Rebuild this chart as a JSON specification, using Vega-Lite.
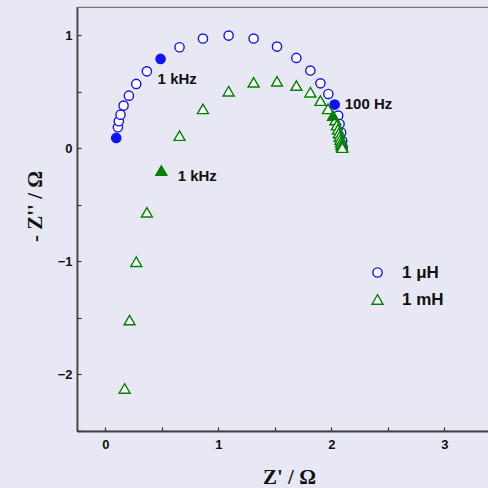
{
  "$schema": "https://vega.github.io/schema/vega-lite/v6.json",
  "width": 424,
  "height": 424,
  "autosize": "none",
  "padding": {"left": 77, "top": 7, "right": 0, "bottom": 57},
  "background": "#e8e8f4",
  "config": {
    "view": {"stroke": "#777", "strokeWidth": 1.2},
    "font": "Liberation Sans",
    "axis": {
      "domainColor": "#444", "domainWidth": 1.8, "tickColor": "#333", "tickWidth": 1.2, "tickSize": -4,
      "labelFont": "Liberation Sans", "labelFontWeight": "bold", "labelFontSize": 13, "labelColor": "#111",
      "titleFont": "Liberation Serif", "titleFontWeight": "bold", "titleFontSize": 21, "titleColor": "#111", "grid": false
    }
  },
  "datasets": {
    "eis": [
      {"series": "1 μH", "zr": 0.097, "zi": 0.092, "marked": true},
      {"series": "1 μH", "zr": 0.112, "zi": 0.186, "marked": false},
      {"series": "1 μH", "zr": 0.12, "zi": 0.239, "marked": false},
      {"series": "1 μH", "zr": 0.135, "zi": 0.298, "marked": false},
      {"series": "1 μH", "zr": 0.162, "zi": 0.378, "marked": false},
      {"series": "1 μH", "zr": 0.209, "zi": 0.466, "marked": false},
      {"series": "1 μH", "zr": 0.274, "zi": 0.57, "marked": false},
      {"series": "1 μH", "zr": 0.368, "zi": 0.681, "marked": false},
      {"series": "1 μH", "zr": 0.489, "zi": 0.791, "marked": true},
      {"series": "1 μH", "zr": 0.657, "zi": 0.894, "marked": false},
      {"series": "1 μH", "zr": 0.864, "zi": 0.971, "marked": false},
      {"series": "1 μH", "zr": 1.091, "zi": 0.997, "marked": false},
      {"series": "1 μH", "zr": 1.312, "zi": 0.971, "marked": false},
      {"series": "1 μH", "zr": 1.519, "zi": 0.9, "marked": false},
      {"series": "1 μH", "zr": 1.69, "zi": 0.8, "marked": false},
      {"series": "1 μH", "zr": 1.814, "zi": 0.688, "marked": false},
      {"series": "1 μH", "zr": 1.903, "zi": 0.575, "marked": false},
      {"series": "1 μH", "zr": 1.973, "zi": 0.481, "marked": false},
      {"series": "1 μH", "zr": 2.029, "zi": 0.387, "marked": true},
      {"series": "1 μH", "zr": 2.06, "zi": 0.29, "marked": false},
      {"series": "1 μH", "zr": 2.072, "zi": 0.215, "marked": false},
      {"series": "1 μH", "zr": 2.086, "zi": 0.14, "marked": false},
      {"series": "1 μH", "zr": 2.095, "zi": 0.068, "marked": false},
      {"series": "1 μH", "zr": 2.1, "zi": 0.01, "marked": false},
      {"series": "1 mH", "zr": 0.171, "zi": -2.124, "marked": false},
      {"series": "1 mH", "zr": 0.215, "zi": -1.519, "marked": false},
      {"series": "1 mH", "zr": 0.274, "zi": -1.003, "marked": false},
      {"series": "1 mH", "zr": 0.368, "zi": -0.566, "marked": false},
      {"series": "1 mH", "zr": 0.496, "zi": -0.197, "marked": true},
      {"series": "1 mH", "zr": 0.657, "zi": 0.112, "marked": false},
      {"series": "1 mH", "zr": 0.864, "zi": 0.349, "marked": false},
      {"series": "1 mH", "zr": 1.091, "zi": 0.505, "marked": false},
      {"series": "1 mH", "zr": 1.312, "zi": 0.584, "marked": false},
      {"series": "1 mH", "zr": 1.519, "zi": 0.593, "marked": false},
      {"series": "1 mH", "zr": 1.69, "zi": 0.555, "marked": false},
      {"series": "1 mH", "zr": 1.814, "zi": 0.496, "marked": false},
      {"series": "1 mH", "zr": 1.903, "zi": 0.422, "marked": false},
      {"series": "1 mH", "zr": 1.97, "zi": 0.349, "marked": false},
      {"series": "1 mH", "zr": 2.014, "zi": 0.289, "marked": true},
      {"series": "1 mH", "zr": 2.035, "zi": 0.25, "marked": false},
      {"series": "1 mH", "zr": 2.048, "zi": 0.205, "marked": false},
      {"series": "1 mH", "zr": 2.058, "zi": 0.168, "marked": false},
      {"series": "1 mH", "zr": 2.066, "zi": 0.135, "marked": false},
      {"series": "1 mH", "zr": 2.073, "zi": 0.105, "marked": false},
      {"series": "1 mH", "zr": 2.079, "zi": 0.078, "marked": false},
      {"series": "1 mH", "zr": 2.085, "zi": 0.054, "marked": false},
      {"series": "1 mH", "zr": 2.089, "zi": 0.034, "marked": false},
      {"series": "1 mH", "zr": 2.093, "zi": 0.018, "marked": false},
      {"series": "1 mH", "zr": 2.096, "zi": 0.006, "marked": false}
    ],
    "labels": [
      {"text": "1 kHz", "zr": 0.463, "zi": 0.617},
      {"text": "100 Hz", "zr": 2.118, "zi": 0.396},
      {"text": "1 kHz", "zr": 0.64, "zi": -0.242}
    ]
  },
  "layer": [
    {
      "mark": {"type": "rule", "color": "#000", "strokeWidth": 1.2},
      "encoding": {
        "y": {"datum": 0, "type": "quantitative", "scale": {"domain": [-2.5, 1.25], "nice": false, "zero": false},
          "axis": {"title": "- Z'' / Ω", "values": [-2.5, -2, -1.5, -1, -0.5, 0, 0.5, 1], "labelExpr": "datum.value % 1 === 0 ? format(datum.value, 'd') : ''", "labelPadding": 9, "titlePadding": 12, "titleY": 199}}
      }
    },
    {
      "data": {"name": "eis"},
      "mark": {"type": "point", "filled": false, "fill": "white", "strokeWidth": 1.4, "opacity": 1},
      "encoding": {
        "x": {"field": "zr", "type": "quantitative", "scale": {"domain": [-0.25, 3.5], "nice": false, "zero": false},
          "axis": {"title": "Z' / Ω", "values": [0, 0.5, 1, 1.5, 2, 2.5, 3, 3.5], "labelExpr": "datum.value % 1 === 0 ? format(datum.value, 'd') : ''", "labelPadding": 11, "titlePadding": 15}},
        "y": {"field": "zi", "type": "quantitative", "scale": {"domain": [-2.5, 1.25], "nice": false, "zero": false},
          "axis": {"title": "- Z'' / Ω", "values": [-2.5, -2, -1.5, -1, -0.5, 0, 0.5, 1], "labelExpr": "datum.value % 1 === 0 ? format(datum.value, 'd') : ''", "labelPadding": 9, "titlePadding": 12, "titleY": 199}},
        "color": {"field": "series", "type": "nominal", "scale": {"domain": ["1 μH", "1 mH"], "range": ["#1010ff", "#008000"]},
          "legend": {"title": null, "orient": "none", "legendX": 292, "legendY": 257, "labelFontSize": 17, "labelFontWeight": "bold", "labelFont": "Liberation Sans", "labelColor": "#111", "labelOffset": 16, "rowPadding": 9, "symbolStrokeWidth": 1.4, "symbolSize": 75, "symbolFillColor": "white"}},
        "shape": {"field": "series", "type": "nominal", "scale": {"domain": ["1 μH", "1 mH"], "range": ["circle", "triangle-up"]}},
        "size": {"field": "series", "type": "nominal", "scale": {"domain": ["1 μH", "1 mH"], "range": [85, 120]}, "legend": null}
      }
    },
    {
      "data": {"name": "eis"},
      "transform": [{"filter": "datum.marked && datum.series === '1 μH'"}],
      "mark": {"type": "point", "filled": true, "opacity": 1, "shape": "circle", "size": 85, "color": "#1010ff"},
      "encoding": {
        "x": {"field": "zr", "type": "quantitative"},
        "y": {"field": "zi", "type": "quantitative"}
      }
    },
    {
      "data": {"name": "eis"},
      "transform": [{"filter": "datum.marked && datum.series === '1 mH'"}],
      "mark": {"type": "point", "filled": true, "opacity": 1, "shape": "triangle-up", "size": 120, "color": "#008000"},
      "encoding": {
        "x": {"field": "zr", "type": "quantitative"},
        "y": {"field": "zi", "type": "quantitative"}
      }
    },
    {
      "data": {"name": "labels"},
      "mark": {"type": "text", "align": "left", "baseline": "middle", "font": "Liberation Sans", "fontWeight": "bold", "fontSize": 15, "color": "#111"},
      "encoding": {
        "x": {"field": "zr", "type": "quantitative"},
        "y": {"field": "zi", "type": "quantitative"},
        "text": {"field": "text", "type": "nominal"}
      }
    }
  ]
}
